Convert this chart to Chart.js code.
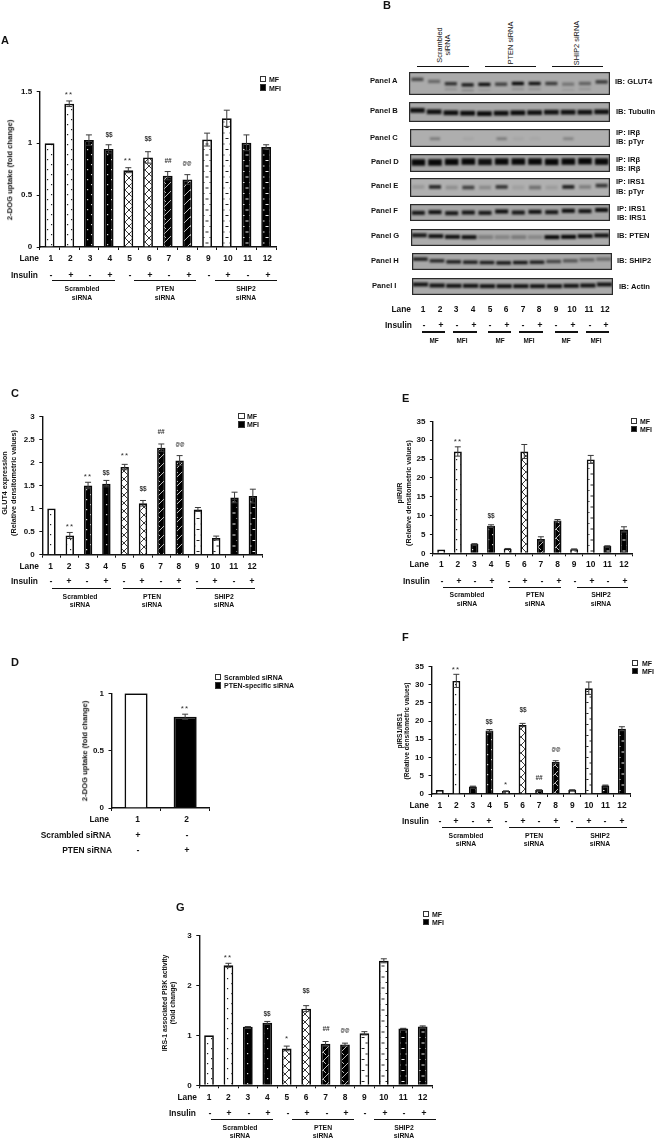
<!DOCTYPE html>
<html>
<head>
<meta charset="utf-8">
<title>2-DOG uptake, GLUT4 expression and insulin signalling</title>
<script src="https://cdn.jsdelivr.net/npm/chart.js@4"></script>
<style>
html, body { margin: 0; padding: 0; background: #fff; }
#page { position: relative; width: 655px; height: 1139px; overflow: hidden; background: #fff; filter: blur(0.4px);
  font-family: "Liberation Sans", Arial, sans-serif; font-weight: bold; color: #111; }
canvas { position: absolute; }
.t { position: absolute; white-space: nowrap; line-height: 1; }
.r { position: absolute; background: #111; }
</style>
</head>
<body>
<div id="page"></div>
<script>
// lanes shared by the twelve lane panels
var lanes = ["1", "2", "3", "4", "5", "6", "7", "8", "9", "10", "11", "12"];
var insulinSigns = ["-", "+", "-", "+", "-", "+", "-", "+", "-", "+", "-", "+"];
var laneSeries = ["MF", "MF", "MFI", "MFI", "MF", "MF", "MFI", "MFI", "MF", "MF", "MFI", "MFI"];
var laneFills = ["dotsW", "dotsW", "dotsB", "dotsB", "hatchW", "hatchW", "hatchB", "hatchB", "dashW", "dashW", "dashB", "dashB"];

// A - 2-DOG uptake
var aValues = [1.0, 1.38, 1.03, 0.945, 0.74, 0.863, 0.687, 0.65, 1.035, 1.24, 1.004, 0.963];
var aErrors = [0, 0.027, 0.05, 0.04, 0.024, 0.055, 0.04, 0.047, 0.062, 0.078, 0.076, 0.022];
var aMarkLanes = [1, 3, 4, 5, 6, 7];
var aMarkText = ["**", "$$", "**", "$$", "##", "@@"];
var aMarkAt = [1.48, 1.08, 0.84, 1.036, 0.83, 0.8];

// C - GLUT4 expression
var cValues = [1.0, 0.417, 1.5, 1.54, 1.9, 1.115, 2.32, 2.04, 0.98, 0.36, 1.24, 1.27];
var cErrors = [0, 0.065, 0.07, 0.07, 0.058, 0.06, 0.08, 0.108, 0.043, 0.043, 0.115, 0.15];
var cMarkLanes = [1, 2, 3, 4, 5, 6, 7];
var cMarkText = ["**", "**", "$$", "**", "$$", "##", "@@"];
var cMarkAt = [0.626, 1.71, 1.78, 2.165, 1.43, 2.65, 2.37];

// D - uptake after PTEN knockdown
var dLanes = ["1", "2"];
var dValues = [1, 0.795];
var dErrors = [0, 0.023];
var dMarkLanes = [1];
var dMarkText = ["**"];
var dMarkAt = [0.873];
var dScrambled = ["+", "-"];
var dPten = ["-", "+"];

// E - pIR/IR
var eValues = [1.0, 27.0, 2.46, 7.3, 1.23, 27.0, 3.78, 8.7, 1.1, 24.9, 1.93, 6.33];
var eErrors = [0, 1.23, 0.1, 0.26, 0.05, 1.85, 0.6, 0.26, 0.05, 1.05, 0.05, 0.7];
var eMarkLanes = [1, 3];
var eMarkText = ["**", "$$"];
var eMarkAt = [29.9, 9.85];

// F - pIRS1/IRS1
var fValues = [1.1, 31.0, 2.05, 17.4, 0.8, 18.9, 1.1, 8.77, 1.1, 29.0, 2.35, 17.9];
var fErrors = [0, 1.8, 0.1, 0.27, 0.05, 0.45, 0.05, 0.36, 0.05, 1.7, 0.1, 0.54];
var fMarkLanes = [1, 3, 4, 5, 6, 7];
var fMarkText = ["**", "$$", "*", "$$", "##", "@@"];
var fMarkAt = [34.4, 19.6, 2.9, 23, 4.5, 12];

// G - PI3K activity
var gValues = [1.0, 2.4, 1.17, 1.25, 0.737, 1.533, 0.83, 0.816, 1.04, 2.49, 1.135, 1.175];
var gErrors = [0, 0.04, 0.005, 0.027, 0.047, 0.06, 0.046, 0.027, 0.033, 0.04, 0.005, 0.013];
var gMarkLanes = [1, 3, 4, 5, 6, 7];
var gMarkText = ["**", "$$", "*", "$$", "##", "@@"];
var gMarkAt = [2.575, 1.43, 0.95, 1.885, 1.12, 1.08];

// B - blot band darkness (0-1) and band position from the top of each strip (0-1)
var blotADark = [0.6, 0.4, 0.75, 0.88, 0.97, 0.65, 1, 0.95, 0.68, 0.32, 0.45, 0.7];
var blotAPos = [0.32, 0.41, 0.51, 0.56, 0.54, 0.53, 0.5, 0.5, 0.5, 0.53, 0.5, 0.43];
var blotBDark = [0.95, 0.95, 0.97, 0.98, 0.98, 0.97, 0.98, 0.95, 0.95, 0.95, 0.95, 0.95];
var blotBPos = [0.42, 0.49, 0.54, 0.56, 0.58, 0.56, 0.54, 0.53, 0.51, 0.51, 0.51, 0.49];
var blotCDark = [0, 0.3, 0, 0.05, 0, 0.3, 0.05, 0.04, 0, 0.26, 0, 0];
var blotCPos = [0.54, 0.54, 0.54, 0.54, 0.54, 0.54, 0.54, 0.54, 0.54, 0.54, 0.54, 0.54];
var blotDDark = [1, 1, 1, 1, 0.95, 1, 1, 1, 1, 1, 1, 1];
var blotDPos = [0.47, 0.47, 0.44, 0.42, 0.44, 0.42, 0.42, 0.42, 0.44, 0.42, 0.4, 0.42];
var blotEDark = [0.14, 0.8, 0.2, 0.65, 0.22, 0.72, 0.1, 0.38, 0.12, 0.85, 0.28, 0.72];
var blotEPos = [0.47, 0.47, 0.5, 0.5, 0.5, 0.47, 0.5, 0.5, 0.5, 0.47, 0.47, 0.4];
var blotFDark = [0.9, 0.95, 0.9, 0.92, 0.9, 0.97, 0.9, 0.95, 0.9, 0.97, 0.92, 0.97];
var blotFPos = [0.52, 0.48, 0.54, 0.5, 0.52, 0.44, 0.5, 0.46, 0.48, 0.4, 0.42, 0.35];
var blotGDark = [0.9, 0.95, 0.95, 0.95, 0.28, 0.24, 0.3, 0.22, 1, 1, 0.95, 0.95];
var blotGPos = [0.37, 0.42, 0.46, 0.48, 0.48, 0.48, 0.48, 0.48, 0.48, 0.46, 0.42, 0.38];
var blotHDark = [0.88, 0.82, 0.88, 0.88, 0.88, 0.92, 0.92, 0.88, 0.62, 0.52, 0.42, 0.38];
var blotHPos = [0.36, 0.46, 0.52, 0.54, 0.56, 0.58, 0.56, 0.54, 0.5, 0.46, 0.4, 0.36];
var blotIDark = [0.92, 0.92, 0.92, 0.92, 0.92, 0.92, 0.92, 0.92, 0.92, 0.92, 0.92, 0.92];
var blotIPos = [0.38, 0.44, 0.46, 0.46, 0.48, 0.48, 0.48, 0.48, 0.48, 0.46, 0.44, 0.38];
var blotAFaint = [0, 0, 0.2, 0.25, 0.1, 0, 0.2, 0.2, 0, 0.1, 0.15, 0];

var page = document.getElementById("page");
Chart.defaults.font.family = '"Liberation Sans", Arial, sans-serif';
Chart.defaults.font.weight = "bold";
Chart.defaults.color = "#111";
Chart.defaults.animation = false;
Chart.defaults.devicePixelRatio = 1;

// absolutely placed text, centred on x,y unless told otherwise
function text(str, x, y, size, align, rot, weight) {
  var d = document.createElement("div");
  d.className = "t";
  d.textContent = str;
  d.style.left = x + "px";
  d.style.top = y + "px";
  d.style.fontSize = size + "px";
  if (weight) d.style.fontWeight = weight;
  var tx = align == "right" ? "-100%" : align == "left" ? "0" : "-50%";
  d.style.transform = "translate(" + tx + ",-50%)" + (rot ? " rotate(-90deg)" : "");
  // keeps horizontal text free of colour fringes; rotated text smears on its own layer
  if (!rot) d.style.willChange = "transform";
  page.appendChild(d);
  return d;
}

// significance marks: the small ones need different sizes to match widths
function mark(str, x, y) {
  var d;
  if (str.charAt(0) == "*") {
    d = text(str, x, y + 1.6, 8, "center", false, "normal");
    d.style.letterSpacing = "1.1px";
    d.style.color = "#333";
  } else if (str.charAt(0) == "@") {
    d = text(str, x, y, 4.6);
  } else {
    d = text(str, x, y, 6.5);
    d.style.color = "#333";
  }
}

function rule(x1, x2, y) {
  var d = document.createElement("div");
  d.className = "r";
  d.style.left = x1 + "px";
  d.style.top = y - 0.6 + "px";
  d.style.width = x2 - x1 + "px";
  d.style.height = "1.2px";
  page.appendChild(d);
}

function legendBox(x, y, size, dark) {
  var d = document.createElement("div");
  d.style.cssText = "position:absolute;box-sizing:border-box;border:1px solid #333;left:" + x + "px;top:" + (y - size / 2) +
    "px;width:" + size + "px;height:" + size + "px;background:" + (dark ? "#000" : "#fff");
  page.appendChild(d);
}

function tile(w, h, bg, fg, paint) {
  var c = document.createElement("canvas");
  c.width = w;
  c.height = h;
  var g = c.getContext("2d");
  g.fillStyle = bg;
  g.fillRect(0, 0, w, h);
  g.fillStyle = fg;
  g.strokeStyle = fg;
  paint(g);
  return g.createPattern(c, "repeat");
}

function paintDots(g) {
  g.fillRect(2, 2, 1.2, 1.2);
  g.fillRect(6, 7, 1.2, 1.2);
}

function paintHatch(g) {
  g.lineWidth = 0.9;
  g.beginPath();
  g.moveTo(-1, 9);
  g.lineTo(9, -1);
  g.moveTo(-1, -1);
  g.lineTo(9, 9);
  g.stroke();
}

function paintZig(g) {
  g.lineWidth = 1;
  g.beginPath();
  g.moveTo(-1, 10);
  g.lineTo(10, -1);
  g.moveTo(0, 0);
  g.lineTo(3, 3);
  g.stroke();
}

function paintDash(g) {
  g.fillRect(0.5, 1, 3, 1);
  g.fillRect(4.5, 6.5, 3, 1);
}

var fills = {
  dotsW: tile(8, 10, "#fff", "#222", paintDots),
  dotsB: tile(8, 10, "#000", "#ddd", paintDots),
  hatchW: tile(8, 8, "#fff", "#222", paintHatch),
  hatchB: tile(9, 9, "#000", "#bbb", paintZig),
  dashW: tile(8, 11, "#fff", "#222", paintDash),
  dashB: tile(8, 11, "#000", "#eee", paintDash),
  plainW: "#fff",
  plainB: "#000"
};

function errorBars(values, errors) {
  return {
    id: "errorBars",
    afterDatasetsDraw: function (chart) {
      var c = chart.ctx, xs = chart.scales.x, ys = chart.scales.y;
      c.save();
      c.strokeStyle = "#3a3a3a";
      c.lineWidth = 1;
      errors.forEach(function (e, i) {
        if (!e) return;
        var x = xs.getPixelForValue(i), hi = ys.getPixelForValue(values[i] + e), lo = ys.getPixelForValue(values[i] - e);
        c.beginPath();
        c.moveTo(x, lo);
        c.lineTo(x, hi);
        c.moveTo(x - 3, hi);
        c.lineTo(x + 3, hi);
        c.moveTo(x - 3, lo);
        c.lineTo(x + 3, lo);
        c.stroke();
      });
      c.restore();
    }
  };
}

function addCanvas(x, y, w, h) {
  var cv = document.createElement("canvas");
  cv.width = w;
  cv.height = h;
  cv.style.left = x + "px";
  cv.style.top = y + "px";
  cv.style.width = w + "px";
  cv.style.height = h + "px";
  page.appendChild(cv);
  return cv;
}

// one bar panel; returns the chart so its scales can place the text around it
function barPanel(p) {
  var cx = Math.floor(p.left - 38), cy = Math.floor(p.top - 8);
  var cw = Math.ceil(p.right + 6 - cx), ch = Math.ceil(p.bottom + 20 - cy);
  var series = p.series || laneSeries, cellFills = p.fills || laneFills, cats = p.cats || lanes;
  var names = [];
  series.forEach(function (s) { if (names.indexOf(s) < 0) names.push(s); });
  var chart = new Chart(addCanvas(cx, cy, cw, ch), {
    type: "bar",
    data: {
      labels: cats,
      datasets: names.map(function (n) {
        return {
          label: n,
          data: p.values.map(function (v, i) { return series[i] == n ? v : null; }),
          backgroundColor: cellFills.map(function (f) { return fills[f]; }),
          borderColor: "#0a0a0a",
          borderWidth: 1.7,
          barPercentage: p.barPct,
          categoryPercentage: 1,
          grouped: false
        };
      })
    },
    options: {
      responsive: false,
      layout: { padding: { top: p.top - cy, right: cx + cw - p.right, left: 0, bottom: 0 } },
      plugins: { legend: { display: false }, tooltip: { enabled: false } },
      scales: {
        x: {
          grid: { offset: true, drawOnChartArea: false, tickLength: 3, color: "#111" },
          border: { color: "#111", width: 1.4 },
          ticks: { autoSkip: false, maxRotation: 0, minRotation: 0, font: { size: 8.4 }, padding: p.laneY - p.bottom - 7.4, labelOffset: p.laneDx || 0 },
          afterFit: function (s) { s.height = cy + ch - p.bottom; }
        },
        y: {
          min: 0,
          max: p.yMax,
          grid: { drawOnChartArea: false, tickLength: 3, color: "#111" },
          border: { color: "#111", width: 1.4 },
          ticks: { stepSize: p.yStep, font: { size: 8 }, padding: 4.5, callback: function (v) { return String(v); } },
          afterFit: function (s) { s.width = p.left - cx; }
        }
      }
    },
    plugins: [errorBars(p.values, p.errors)]
  });
  var xs = chart.scales.x, ys = chart.scales.y;
  p.markLanes.forEach(function (l, i) {
    mark(p.markText[i], cx + xs.getPixelForValue(l), cy + ys.getPixelForValue(p.markAt[i]));
  });
  chart.px = function (i) { return cx + xs.getPixelForValue(i); };
  return chart;
}

function laneExtras(chart, o) {
  text("Lane", o.laneRight, o.laneY, 8.4, "right");
  text("Insulin", o.insRight, o.insY, 8.4, "right");
  insulinSigns.forEach(function (s, i) {
    text(s, chart.px(i) + o.insDx, o.insY, 9);
  });
  var names = ["Scrambled", "PTEN", "SHIP2"];
  o.groups.forEach(function (g, i) {
    rule(g[0], g[1], o.ruleY);
    text(names[i], g[2], o.groupY, 6.8);
    text("siRNA", g[2], o.groupY + 8.3, 6.8);
  });
}

function mfLegend(x, y1, y2, tx, size) {
  legendBox(x, y1, size, false);
  legendBox(x, y2, size, true);
  text("MF", tx, y1, 7, "left");
  text("MFI", tx, y2, 7, "left");
}

// ---- A
var chartA = barPanel({ values: aValues, errors: aErrors, yMax: 1.5, yStep: 0.5, left: 39.7, right: 276, top: 90.7, bottom: 247, barPct: 0.5, laneY: 258, laneDx: 1.2,
  markLanes: aMarkLanes, markText: aMarkText, markAt: aMarkAt });
laneExtras(chartA, { laneRight: 39, laneY: 258, insRight: 37.7, insY: 274.7, insDx: 1.5, ruleY: 280.7, groupY: 289.2,
  groups: [[52, 114.7, 81.7], [134, 195.7, 164.7], [215, 277, 246]] });
mfLegend(259.5, 79, 87.7, 268.7, 6.8);
text("A", 1, 40, 11, "left");
text("2-DOG uptake (fold change)", 10, 170, 7.6, "center", true);

// ---- C
var chartC = barPanel({ values: cValues, errors: cErrors, yMax: 3, yStep: 0.5, left: 42.3, right: 262, top: 415.7, bottom: 554.7, barPct: 0.46, laneY: 565.7, laneDx: -0.8,
  markLanes: cMarkLanes, markText: cMarkText, markAt: cMarkAt });
laneExtras(chartC, { laneRight: 39.3, laneY: 565.7, insRight: 37.7, insY: 581, insDx: -0.8, ruleY: 588.7, groupY: 596.7,
  groups: [[52, 110.7, 80], [122.7, 181.3, 151.7], [195.7, 254.7, 224.3]] });
mfLegend(237.8, 416, 424.3, 247, 6.8);
text("C", 11, 393.3, 11, "left");
text("GLUT4 expression", 4.7, 483, 7.2, "center", true);
text("(Relative densitometric values)", 14, 483, 7.2, "center", true);

// ---- E
var chartE = barPanel({ values: eValues, errors: eErrors, yMax: 35, yStep: 5, left: 432.9, right: 632.3, top: 420.7, bottom: 553.3, barPct: 0.48, laneY: 564.3,
  markLanes: eMarkLanes, markText: eMarkText, markAt: eMarkAt });
laneExtras(chartE, { laneRight: 429.3, laneY: 564.3, insRight: 430, insY: 580.7, insDx: 1, ruleY: 587.3, groupY: 595.3,
  groups: [[442.7, 493.3, 466.7], [509.3, 560.7, 535], [576.7, 627.7, 601]] });
mfLegend(631, 421, 429.3, 640.3, 6.3);
text("E", 402, 397.7, 11, "left");
text("pIR/IR", 400.3, 493.3, 7.2, "center", true);
text("(Relative densitometric values)", 409, 493.3, 7.2, "center", true);

// ---- F
var chartF = barPanel({ values: fValues, errors: fErrors, yMax: 35, yStep: 5, left: 431.5, right: 630.2, top: 665, bottom: 794, barPct: 0.48, laneY: 805,
  markLanes: fMarkLanes, markText: fMarkText, markAt: fMarkAt });
laneExtras(chartF, { laneRight: 429, laneY: 805, insRight: 429, insY: 821.3, insDx: 0, ruleY: 827.7, groupY: 836,
  groups: [[442.3, 492.7, 466], [509, 560, 534.3], [576.3, 627, 600.3]] });
mfLegend(632, 663, 671, 641.7, 6.3);
text("F", 402, 637, 11, "left");
text("pIRS1/IRS1", 400.3, 731.3, 6.6, "center", true);
text("(Relative densitometric values)", 407, 731.3, 6.6, "center", true);

// ---- D
var chartD = barPanel({ cats: dLanes, series: ["Scrambled siRNA", "PTEN-specific siRNA"], fills: ["plainW", "plainB"], values: dValues, errors: dErrors,
  yMax: 1, yStep: 0.5, left: 111.5, right: 209.7, top: 692.3, bottom: 808, barPct: 0.47, laneY: 819, laneDx: 1.5,
  markLanes: dMarkLanes, markText: dMarkText, markAt: dMarkAt });
text("Lane", 109, 819, 8.4, "right");
text("Scrambled siRNA", 111.3, 835, 8.4, "right");
text("PTEN siRNA", 112.3, 850.3, 8.4, "right");
dScrambled.forEach(function (s, i) { text(s, chartD.px(i) + 1.5, 835, 9); });
dPten.forEach(function (s, i) { text(s, chartD.px(i) + 1.5, 850.3, 9); });
legendBox(214.7, 677, 6.8, false);
legendBox(214.7, 685.3, 6.8, true);
text("Scrambled siRNA", 224.3, 677, 7, "left");
text("PTEN-specific siRNA", 224.3, 685.3, 7, "left");
text("D", 11, 662, 11, "left");
text("2-DOG uptake (fold  change)", 85, 750.7, 7.6, "center", true);

// ---- G
var chartG = barPanel({ values: gValues, errors: gErrors, yMax: 3, yStep: 1, left: 199.3, right: 432.4, top: 934.7, bottom: 1085.3, barPct: 0.5, laneY: 1096.7,
  markLanes: gMarkLanes, markText: gMarkText, markAt: gMarkAt });
laneExtras(chartG, { laneRight: 197.3, laneY: 1096.7, insRight: 196, insY: 1113.3, insDx: 1, ruleY: 1119.7, groupY: 1127.7,
  groups: [[210.7, 272.7, 240], [292, 354, 323], [373.7, 435.7, 403.7]] });
mfLegend(422.7, 913.7, 922, 431.7, 6.3);
text("G", 175.5, 907.3, 11, "left");
text("IRS-1 associated PI3K activity", 165.3, 1003.3, 6.8, "center", true);
text("(fold change)", 173.3, 1003.3, 6.8, "center", true);

// ---- B: each strip is its own small chart, bands are floating bars
var blotFrame = {
  id: "blotFrame",
  beforeDatasetsDraw: function (chart) {
    var c = chart.ctx;
    c.fillStyle = chart.options.plugins.blotFrame.bg;
    c.fillRect(0, 0, chart.width, chart.height);
    c.save();
    c.filter = "blur(0.8px)";
  },
  afterDatasetsDraw: function (chart) {
    var c = chart.ctx;
    c.restore();
    c.strokeStyle = "#2a2a2a";
    c.lineWidth = 1.2;
    c.strokeRect(0.6, 0.6, chart.width - 1.2, chart.height - 1.2);
  }
};

function blot(x, y, w, h, dark, pos, bandH, bandW, bg, faint) {
  var sets = [{
    data: pos.map(function (v) { return [v - bandH / 2, v + bandH / 2]; }),
    backgroundColor: dark.map(function (d) { return "rgba(8,8,8," + d + ")"; }),
    barPercentage: bandW, categoryPercentage: 1, grouped: false
  }];
  if (faint) {
    sets.push({
      data: pos.map(function (v) { return [v + 0.2, v + 0.28]; }),
      backgroundColor: faint.map(function (d) { return "rgba(8,8,8," + d + ")"; }),
      barPercentage: bandW, categoryPercentage: 1, grouped: false
    });
  }
  new Chart(addCanvas(x, y, w, h), {
    type: "bar",
    data: { labels: lanes, datasets: sets },
    options: {
      responsive: false,
      layout: { padding: 0 },
      plugins: { legend: { display: false }, tooltip: { enabled: false }, blotFrame: { bg: bg } },
      scales: { x: { display: false }, y: { display: false, min: 0, max: 1, reverse: true } }
    },
    plugins: [blotFrame]
  });
}

blot(409, 72, 201, 23, blotADark, blotAPos, 0.15, 0.72, "#aaaaaa", blotAFaint);
blot(409, 102, 201, 20, blotBDark, blotBPos, 0.24, 0.88, "#a8a8a8");
blot(410, 129, 200, 18, blotCDark, blotCPos, 0.16, 0.62, "#aeaeae");
blot(410, 154, 200, 18, blotDDark, blotDPos, 0.36, 0.82, "#a4a4a4");
blot(410, 178, 200, 19, blotEDark, blotEPos, 0.2, 0.72, "#b0b0b0");
blot(410, 204, 200, 17, blotFDark, blotFPos, 0.24, 0.78, "#a6a6a6");
blot(411, 229, 199, 17, blotGDark, blotGPos, 0.24, 0.9, "#acacac");
blot(412, 253, 200, 17, blotHDark, blotHPos, 0.2, 0.88, "#a8a8a8");
blot(412, 278, 201, 17, blotIDark, blotIPos, 0.24, 0.92, "#aaaaaa");

text("B", 383, 5, 11, "left");
text("Scrambled", 440, 45, 7.4, "center", true, "normal");
text("siRNA", 447.7, 45, 7.4, "center", true, "normal");
text("PTEN siRNA", 511, 42.5, 7.4, "center", true, "normal");
text("SHIP2 siRNA", 577, 42.5, 7.4, "center", true, "normal");
rule(417, 468.7, 66.7);
rule(484.7, 535.7, 66.7);
rule(552, 603.3, 66.7);

var blotNames = ["Panel A", "Panel B", "Panel C", "Panel D", "Panel E", "Panel F", "Panel G", "Panel H", "Panel I"];
var blotNameX = [369.7, 369.7, 369.7, 370.7, 371, 371, 371, 371, 372.3];
var blotNameY = [81, 111, 137.7, 162.3, 186, 210.7, 235.7, 260.7, 285.7];
blotNames.forEach(function (n, i) { text(n, blotNameX[i], blotNameY[i], 7.6, "left"); });

var probeLabels = ["IB: GLUT4", "IB: Tubulin", "IP: IRβ", "IB: pTyr", "IP: IRβ", "IB: IRβ", "IP: IRS1", "IB: pTyr", "IP: IRS1", "IB: IRS1", "IB: PTEN", "IB: SHIP2", "IB: Actin"];
var probeX = [615, 615.7, 615.7, 615.7, 615.7, 615.7, 615.7, 615.7, 616.5, 616.5, 617.3, 617.3, 618.7];
var probeY = [82, 112.3, 133, 142.3, 159.7, 169, 182.3, 192, 209.3, 218.3, 236, 261, 287];
probeLabels.forEach(function (n, i) { text(n, probeX[i], probeY[i], 7.6, "left"); });

text("Lane", 411, 308.7, 8.4, "right");
text("Insulin", 411.7, 325, 8.4, "right");
lanes.forEach(function (l, i) {
  text(l, 423.3 + i * 16.56, 308.7, 8.4);
  text(insulinSigns[i], 424 + i * 16.56, 325, 9);
});
var subRules = [[422.3, 445], [453.3, 476.7], [488.3, 511], [519.3, 543.3], [555, 577.7], [586, 608.7]];
var subCentres = [433.7, 462.3, 500, 529.3, 566.3, 595.7];
var subNames = ["MF", "MFI", "MF", "MFI", "MF", "MFI"];
subRules.forEach(function (r, i) {
  rule(r[0], r[1], 332);
  text(subNames[i], subCentres[i], 341.3, 6.4);
});
</script>
</body>
</html>
